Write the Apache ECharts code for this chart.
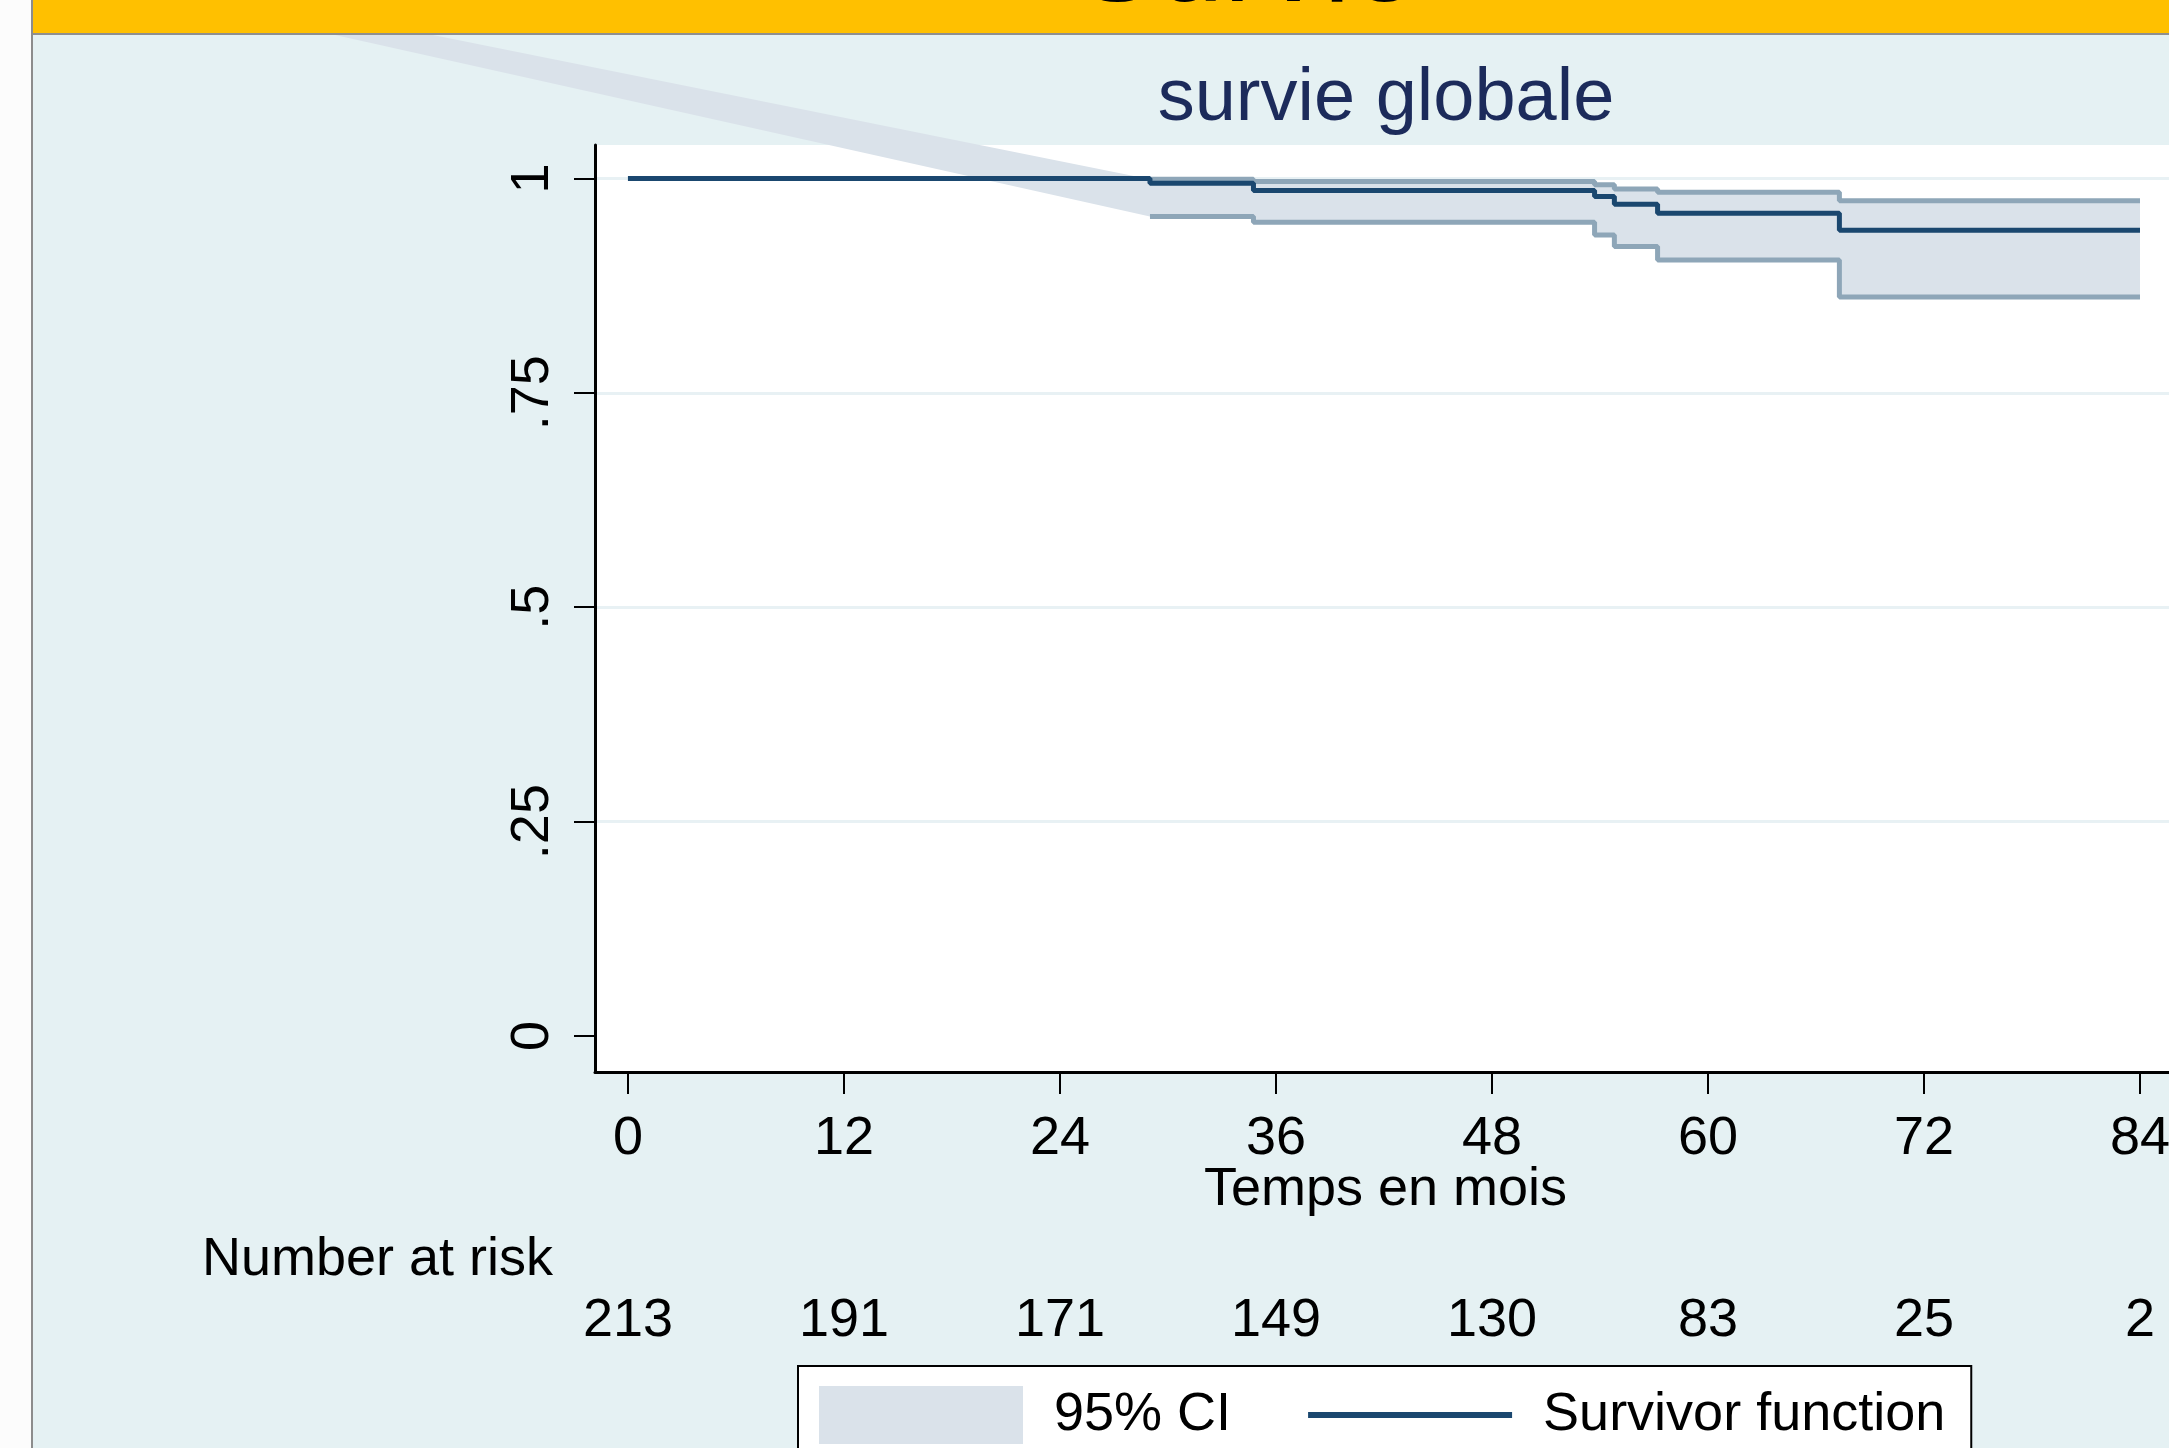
<!DOCTYPE html>
<html>
<head>
<meta charset="utf-8">
<script src="https://cdn.jsdelivr.net/npm/echarts@6/dist/echarts.min.js"></script>
<style>
  html, body { margin: 0; padding: 0; background: #ffffff; }
  #chart { width: 2169px; height: 1448px; }
</style>
</head>
<body>
<div id="chart"></div>
<script>
// Kaplan-Meier estimate (months, survival probability)
const months   = [0, 29.0, 34.75, 53.7, 54.8, 57.2, 67.3, 84];
const survival = [1, 0.9944, 0.9858, 0.9788, 0.9699, 0.9594, 0.9396, 0.9396];

// 95% confidence limits, defined from the first event onward
const ciTimes = [29.0, 34.75, 53.7, 54.8, 57.2, 67.3, 84];
const ciUpper = [0.9991, 0.9963, 0.9927, 0.9878, 0.9839, 0.9741, 0.9741];
const ciLower = [0.9555, 0.9490, 0.9341, 0.9205, 0.9050, 0.8618, 0.8618];

// leading vertices of the shaded band (upper edge, lower edge)
const bandLeadTime  = [-20.5, -25.0];
const bandLeadValue = [1.208, 1.208];

// risk table
const riskTimes = [0, 12, 24, 36, 48, 60, 72, 84];
const atRisk    = [213, 191, 171, 149, 130, 83, 25, 2];

// y axis ticks
const yTicks      = [0, 0.25, 0.5, 0.75, 1];
const yTickLabels = ['0', '.25', '.5', '.75', '1'];
const gridLevels  = [0.25, 0.5, 0.75, 1];

const FONT = '"Liberation Sans", Arial, sans-serif';
const NAVY = '#1a476f';
const CI_LINE = '#8ea6b8';
const CI_FILL = '#dae2ea';

const X_MIN = -1.83, X_MAX = 86;

function stepPath(times, values) {
  const pts = [];
  for (let i = 0; i < times.length; i++) {
    pts.push([times[i], values[i]]);
    if (i < times.length - 1) pts.push([times[i + 1], values[i]]);
  }
  return pts;
}

const chart = echarts.init(document.getElementById('chart'), null, { renderer: 'canvas' });

const option = {
  backgroundColor: '#e5f1f3',
  animation: false,
  textStyle: { fontFamily: FONT },
  grid: {
    left: 595, top: 145, width: 1581, height: 927,
    outerBoundsMode: 'none', containLabel: false,
    show: true, backgroundColor: '#ffffff', borderWidth: 0
  },
  xAxis: [{
    type: 'value', min: X_MIN, max: X_MAX,
    name: 'Temps en mois', nameLocation: 'middle', nameGap: 91, nameMoveOverlap: false,
    nameTextStyle: { fontSize: 54, color: '#000', fontFamily: FONT },
    axisLine: { show: true, onZero: false, lineStyle: { color: '#000', width: 3 } },
    axisTick: { show: true, length: 22, customValues: riskTimes, lineStyle: { color: '#000', width: 2 } },
    axisLabel: { customValues: riskTimes, margin: 40, fontSize: 54, color: '#000', fontFamily: FONT },
    splitLine: { show: false }
  }, {
    type: 'value', min: X_MIN, max: X_MAX, position: 'bottom', gridIndex: 0,
    axisLine: { show: false }, axisTick: { show: false }, splitLine: { show: false },
    axisLabel: {
      customValues: riskTimes, margin: 222, fontSize: 54, color: '#000', fontFamily: FONT,
      formatter: v => String(atRisk[riskTimes.indexOf(v)])
    }
  }],
  yAxis: {
    type: 'value', min: -0.042, max: 1.039,
    axisLine: { show: true, onZero: false, lineStyle: { color: '#000', width: 3 } },
    axisTick: { show: true, length: 21, customValues: yTicks, lineStyle: { color: '#000', width: 2 } },
    axisLabel: {
      customValues: yTicks, rotate: 90, margin: 35, fontSize: 54, color: '#000', fontFamily: FONT,
      formatter: v => yTickLabels[yTicks.indexOf(v)]
    },
    splitLine: { show: false }
  },
  legend: {
    left: 798, top: 1366,
    orient: 'horizontal',
    backgroundColor: '#ffffff', borderColor: '#000', borderWidth: 2,
    padding: [20, 26, 40, 21],
    itemWidth: 204, itemHeight: 58, itemGap: 77,
    textStyle: { fontSize: 54, color: '#000', fontFamily: FONT, padding: [0, 0, 0, 26] },
    data: [
      { name: '95% CI', icon: 'rect', itemStyle: { color: CI_FILL } },
      { name: 'Survivor function', icon: 'path://M0,0H200V6H0Z', itemStyle: { color: NAVY } }
    ]
  },
  graphic: [
    { type: 'rect', z: 100, shape: { x: 0, y: 0, width: 31, height: 1448 }, style: { fill: '#fcfcfc' } },
    { type: 'rect', z: 100, shape: { x: 31, y: 0, width: 2, height: 1448 }, style: { fill: '#8c8c8c' } },
    { type: 'rect', z: 100, shape: { x: 33, y: 0, width: 2136, height: 33 }, style: { fill: '#ffc000' } },
    { type: 'rect', z: 100, shape: { x: 33, y: 33, width: 2136, height: 2 }, style: { fill: '#8f8f8f' } },
    { type: 'text', z: 101, x: 1247, y: -92,
      style: { text: 'Survie', fontSize: 120, fontFamily: FONT, fill: '#000', textAlign: 'center', textVerticalAlign: 'top' } },
    { type: 'text', z: 101, x: 1386, y: 100,
      style: { text: 'survie globale', fontSize: 74, fontFamily: FONT, fill: '#1c2b5b', textAlign: 'center', textVerticalAlign: 'middle' } },
    { type: 'text', z: 101, x: 202, y: 1260,
      style: { text: 'Number at risk', fontSize: 54, fontFamily: FONT, fill: '#000', textAlign: 'left', textVerticalAlign: 'middle' } }
  ],
  series: [
    {
      // horizontal reference lines
      type: 'line', data: [], z: 0, silent: true,
      markLine: {
        silent: true, symbol: 'none', z: 0, label: { show: false },
        lineStyle: { color: '#e8f1f4', width: 3, type: 'solid' },
        data: gridLevels.map(v => ({ yAxis: v }))
      }
    },
    {
      name: '95% CI',
      type: 'custom',
      z: 1,
      clip: false,
      itemStyle: { color: CI_FILL },
      data: [[0, 0]],
      renderItem: function (params, api) {
        const upper = [[bandLeadTime[0], bandLeadValue[0]]].concat(stepPath(ciTimes, ciUpper));
        const lower = stepPath(ciTimes, ciLower).reverse().concat([[bandLeadTime[1], bandLeadValue[1]]]);
        const pts = upper.concat(lower).map(p => api.coord(p));
        return { type: 'polygon', shape: { points: pts }, style: { fill: CI_FILL } };
      }
    },
    {
      name: 'upper CI', type: 'line', step: 'end', z: 3, symbol: 'none', legendHoverLink: false,
      lineStyle: { color: CI_LINE, width: 5 },
      data: ciTimes.map((t, i) => [t, ciUpper[i]])
    },
    {
      name: 'lower CI', type: 'line', step: 'end', z: 3, symbol: 'none', legendHoverLink: false,
      lineStyle: { color: CI_LINE, width: 5 },
      data: ciTimes.map((t, i) => [t, ciLower[i]])
    },
    {
      name: 'Survivor function', type: 'line', step: 'end', z: 4, symbol: 'none',
      itemStyle: { color: NAVY },
      lineStyle: { color: NAVY, width: 5 },
      data: months.map((t, i) => [t, survival[i]])
    }
  ]
};

chart.setOption(option);
</script>
</body>
</html>
